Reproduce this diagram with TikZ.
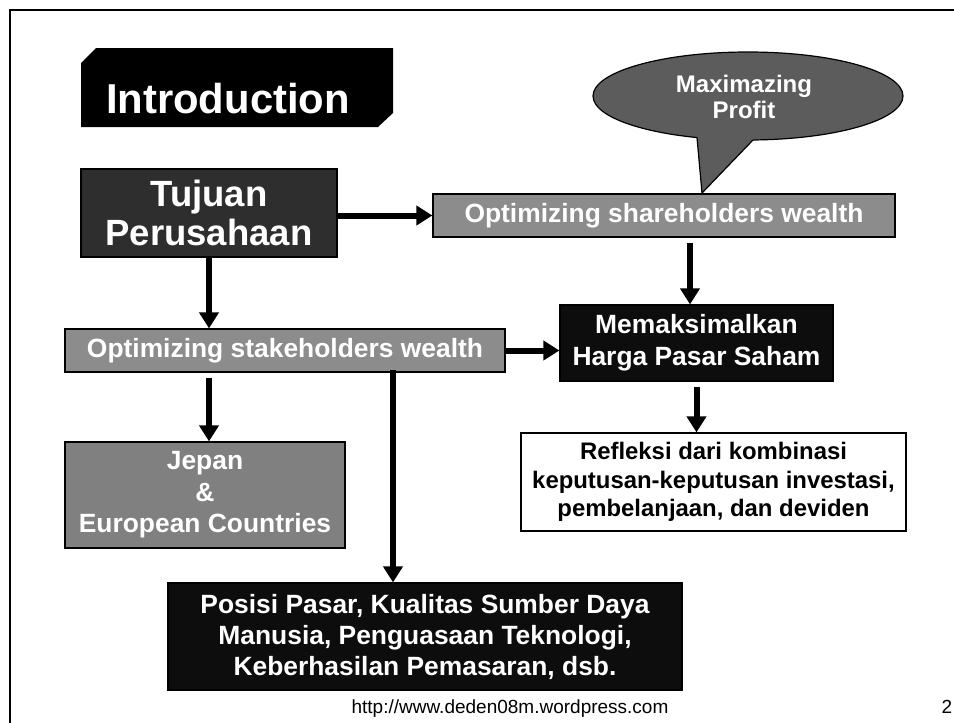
\documentclass[tikz,border=0pt]{standalone}
\usepackage{fontspec}
\setmainfont{Liberation Sans}
\usetikzlibrary{arrows.meta}
\begin{document}
\begin{tikzpicture}[x=1pt,y=-1pt,
  kotak/.style={draw=black,line width=1.2pt,inner sep=0pt,align=center,text=white,font=\bfseries\fontsize{26.4}{32}\selectfont},
  panah/.style={line width=6pt,-{Triangle[width=19pt,length=16pt]}}]
\definecolor{color1}{rgb}{0.18,0.18,0.18}
\definecolor{color2}{rgb}{0.55,0.55,0.55}
\definecolor{color3}{rgb}{0.5,0.5,0.5}
\definecolor{color4}{rgb}{0.36,0.36,0.36}
\definecolor{color5}{rgb}{0.05,0.05,0.05}
\useasboundingbox (0,0) rectangle (954,723);
\coordinate[] (A1) at (10,723);
\coordinate[] (A2) at (10,10);
\coordinate[] (A3) at (954,10);
\coordinate[] (B1) at (81,63);
\coordinate[] (B2) at (96,48);
\coordinate[] (B3) at (393,48);
\coordinate[] (B4) at (393,113);
\coordinate[] (B5) at (378,127);
\coordinate[] (B6) at (81,127);
\coordinate[] (C0) at (748,96);
\coordinate[] (C1) at (697,137.5);
\coordinate[] (C2) at (753,140);
\coordinate[] (C3) at (702,193);
\coordinate[] (C4) at (753,130);
\coordinate[] (C5) at (697,128);
\coordinate[] (D1) at (393,370);
\coordinate[] (D2) at (690,237);
\draw[line width=2pt] (A1)--(A2)--(A3);
\fill[black] (B1)--(B2)--(B3)--(B4)--(B5)--(B6)--cycle;
\node[anchor=base,text=white,font=\bfseries\fontsize{41.8}{48}\selectfont] (intro) at (228,113) {Introduction};
\filldraw[fill=color4,line width=1.2pt] (C0) ellipse [x radius=155, y radius=44];
\fill[color4] (C1)--(C3)--(C2)--(C4)--(C5)--cycle;
\draw[line width=1.2pt] (C1)--(C3)--(C2);
\node[align=center,text=white,font=\bfseries\fontsize{24}{26}\selectfont] (profit) at (744,97) {Maximazing\\Profit};
\node[kotak,fill=color1,minimum width=256pt,minimum height=88pt,font=\bfseries\fontsize{36.5}{39}\selectfont] (tuj) at (209,213) {Tujuan\\Perusahaan};
\node[kotak,fill=color2,minimum width=462pt,minimum height=43pt] (shr) at (664,215.5) {Optimizing shareholders wealth};
\node[kotak,fill=color2,minimum width=440pt,minimum height=43pt] (stake) at (285,350.5) {Optimizing stakeholders wealth};
\node[kotak,fill=color5,minimum width=273pt,minimum height=76pt] (harga) at (696.5,343) {Memaksimalkan\\Harga Pasar Saham};
\node[kotak,fill=color3,minimum width=280pt,minimum height=106pt,font=\bfseries\fontsize{26.4}{31.5}\selectfont] (jep) at (205,495) {Jepan\\\&\\European Countries};
\node[kotak,fill=white,text=black,minimum width=385pt,minimum height=98pt,font=\bfseries\fontsize{23.9}{28.5}\selectfont] (refl) at (713.5,482) {Refleksi dari kombinasi\\keputusan-keputusan investasi,\\pembelanjaan, dan deviden};
\node[kotak,fill=color5,minimum width=514pt,minimum height=107pt,font=\bfseries\fontsize{26.4}{31}\selectfont] (pos) at (425,636.5) {Posisi Pasar, Kualitas Sumber Daya\\Manusia, Penguasaan Teknologi,\\Keberhasilan Pemasaran, dsb.};
\draw[panah] (shr.west -| tuj.east) -- (shr.west);
\draw[panah] (tuj.south) -- (tuj.south |- stake.north);
\draw[panah,shorten <=6pt] (D2) -- (D2 |- harga.north);
\draw[panah] (stake.east) -- (stake.east -| harga.west);
\draw[panah,shorten <=5pt] (harga.south) -- (refl.north -| harga.south);
\draw[panah,shorten <=5pt] (stake.south -| tuj.south) -- (jep.north -| tuj.south);
\draw[panah] (D1) -- (D1 |- pos.north);
\node[anchor=base,font=\fontsize{19}{22}\selectfont] (url) at (510,713) {http://www.deden08m.wordpress.com};
\node[anchor=base,font=\fontsize{19}{22}\selectfont] (hal) at (947,713) {2};
\end{tikzpicture}
\end{document}
